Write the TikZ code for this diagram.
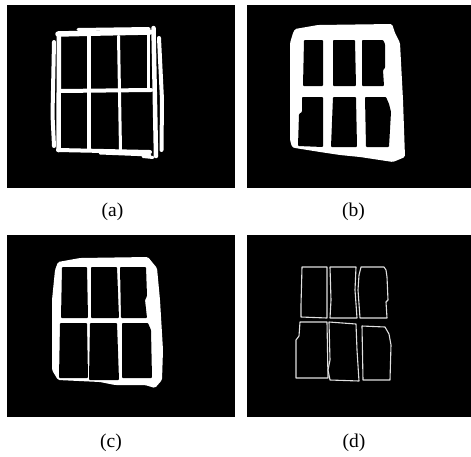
\documentclass[tikz,border=0pt]{standalone}
\usepackage{fontspec}
\setmainfont{Liberation Serif}
\begin{document}
\begin{tikzpicture}[x=1pt,y=-1pt,
  panel/.style={fill=black},
  frame/.style={fill=white,rounded corners=1.5pt},
  hole/.style={fill=black,rounded corners=0.8pt},
  stroke/.style={draw=white,line width=#1,line cap=round,line join=round},
  stroke/.default=4pt,
  outline/.style={draw=black!12,line width=1.1pt,line join=round},
  lab/.style={font=\fontsize{19.5}{23}\selectfont,inner sep=0pt}]
\path[use as bounding box] (0,0) rectangle (471,456);
% panels
\fill[panel] (7,5) rectangle (235,188);
\fill[panel] (247,5) rectangle (471,188);
\fill[panel] (7,235) rectangle (235,417);
\fill[panel] (247,235) rectangle (471,417);
% ---------- (a)
\draw[stroke=5.5pt] (58,34) -- (100,33) -- (150,32);
\draw[stroke=3pt] (78,29.5) -- (149,28.5);
\draw[stroke=4.5pt] (59,35) -- (58.5,150);
\draw[stroke=4pt] (54,42) -- (52.5,115) -- (54,146);
\draw[stroke=4pt] (60,91) -- (151,90);
\draw[stroke=3.5pt] (89,36) -- (89,150);
\draw[stroke=3pt] (118.5,36) -- (120.5,150);
\draw[stroke=4pt] (58,150) -- (150,152);
\draw[stroke=3pt] (100,153) -- (150,155);
\draw[stroke=3pt] (143,156.5) -- (153,157.5);
\draw[stroke=3.5pt] (148.5,30) -- (148.5,90);
\draw[stroke=4.5pt] (153.5,28) -- (156,156);
\draw[stroke=4pt] (159,38) -- (162,100) -- (161.5,150);
% ---------- (b)
\fill[frame] (295,29) -- (318,25) -- (392,24) -- (395,33) -- (400,43) -- (403,100)
  -- (405,157) -- (393,162) -- (360,157) -- (340,155) -- (320,152) -- (295,148)
  -- (292,147) -- (290,140) -- (290,43) -- (293,33) -- cycle;
\fill[hole] (304,40) -- (323,40) -- (323,86) -- (303,86) -- cycle;
\fill[hole] (333,40) -- (355,40) -- (356,86) -- (333,86) -- cycle;
\fill[hole] (362,40) -- (383,40) -- (385,44) -- (385,68) -- (383,70) -- (384,86) -- (362,86) -- cycle;
\fill[hole] (302,97) -- (323,97) -- (323,147) -- (298,146) -- (299,114) -- (302,112) -- cycle;
\fill[hole] (333,97) -- (356,97) -- (357,147) -- (331,147) -- cycle;
\fill[hole] (365,97) -- (386,97) -- (389,104) -- (391,112) -- (389,147) -- (366,147) -- cycle;
% ---------- (c)
\fill[frame] (58,262) -- (80,258) -- (148,257) -- (152,262) -- (157,268) -- (160,300)
  -- (163,350) -- (162,380) -- (155,388) -- (145,385) -- (115,385) -- (100,382)
  -- (58,380) -- (52,370) -- (52,300) -- (55,270) -- cycle;
\fill[hole] (62,267) -- (87,267) -- (88,318) -- (61,318) -- cycle;
\fill[hole] (91,267) -- (117,267) -- (119,318) -- (91,318) -- cycle;
\fill[hole] (120,267) -- (146,267) -- (147,296) -- (145,300) -- (147,318) -- (121,318) -- cycle;
\fill[hole] (60,323) -- (87,323) -- (88,378) -- (59,378) -- cycle;
\fill[hole] (90,323) -- (117,323) -- (119,380) -- (89,380) -- cycle;
\fill[hole] (122,323) -- (148,323) -- (151,330) -- (152,378) -- (122,378) -- cycle;
% ---------- (d)
\draw[outline] (302,267) -- (327,267) -- (327,300) -- (327,318) -- (301,317) -- (301,305) -- cycle;
\draw[outline] (330,267) -- (356,267) -- (355,290) -- (357,318) -- (330,318) -- (331,300) -- cycle;
\draw[outline] (361,267) -- (384,267) -- (386,270) -- (387,277) -- (388,300) -- (386,302)
  -- (387,318) -- (360,318) -- (358,290) -- (359,275) -- cycle;
\draw[outline] (300,322) -- (327,322) -- (328,378) -- (296,378) -- (296,340) -- (299,336) -- cycle;
\draw[outline] (329,322) -- (356,324) -- (357,350) -- (359,381) -- (330,380) -- (328,370) -- (330,360) -- cycle;
\draw[outline] (362,326) -- (385,327) -- (389,334) -- (391,345) -- (390,380) -- (363,380) -- cycle;
% labels
\node[lab] (la) at (112.5,212) {(a)};
\node[lab] (lb) at (353.5,212) {(b)};
\node[lab] (lc) at (111,443) {(c)};
\node[lab] (ld) at (354,443) {(d)};
\end{tikzpicture}
\end{document}
